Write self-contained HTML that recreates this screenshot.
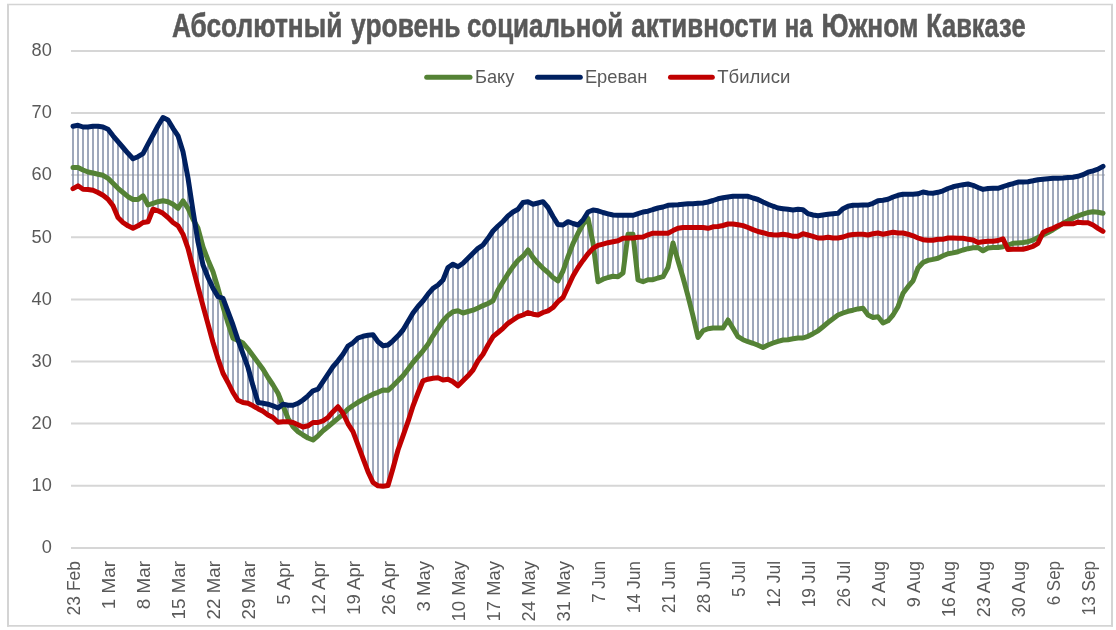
<!DOCTYPE html>
<html lang="ru"><head><meta charset="utf-8"><title>Абсолютный уровень социальной активности на Южном Кавказе</title>
<style>
html,body{margin:0;padding:0;background:#fff;}
body{width:1116px;height:630px;overflow:hidden;}
svg{display:block;font-family:"Liberation Sans", "DejaVu Sans", sans-serif;}
.ax{font-size:18.2px;fill:#595959;}
.ttl{font-size:33px;font-weight:bold;fill:#595959;stroke:#595959;stroke-width:0.55px;stroke-linejoin:round;}
</style></head><body>
<svg width="1116" height="630" viewBox="0 0 1116 630">
<rect x="0" y="0" width="1116" height="630" fill="#fff"/>
<g stroke="#d4d4d4" fill="none"><line x1="8" y1="3.9" x2="8" y2="626.8" stroke-width="2"/><line x1="1112" y1="3.9" x2="1112" y2="626.8" stroke-width="2"/><line x1="7" y1="4.5" x2="1113" y2="4.5" stroke-width="1.3"/><line x1="7" y1="625.9" x2="1113" y2="625.9" stroke-width="1.9"/></g>

<g stroke="#d6d6d6" stroke-width="2" fill="none">
<line x1="71" y1="547.9" x2="1105" y2="547.9"/>
<line x1="71" y1="485.8" x2="1105" y2="485.8"/>
<line x1="71" y1="423.6" x2="1105" y2="423.6"/>
<line x1="71" y1="361.5" x2="1105" y2="361.5"/>
<line x1="71" y1="299.4" x2="1105" y2="299.4"/>
<line x1="71" y1="237.3" x2="1105" y2="237.3"/>
<line x1="71" y1="175.1" x2="1105" y2="175.1"/>
<line x1="71" y1="113.0" x2="1105" y2="113.0"/>
<line x1="71" y1="50.9" x2="1105" y2="50.9"/>
</g>
<g class="ax" text-anchor="end">
<text x="51.8" y="553.1">0</text>
<text x="51.8" y="491.0">10</text>
<text x="51.8" y="428.8">20</text>
<text x="51.8" y="366.7">30</text>
<text x="51.8" y="304.6">40</text>
<text x="51.8" y="242.5">50</text>
<text x="51.8" y="180.3">60</text>
<text x="51.8" y="118.2">70</text>
<text x="51.8" y="56.1">80</text>
</g>
<g stroke="#7f8ba4" stroke-width="1.5" fill="none">
<line x1="73.0" y1="126.3" x2="73.0" y2="188.7"/>
<line x1="78.0" y1="125.3" x2="78.0" y2="185.8"/>
<line x1="83.0" y1="127.0" x2="83.0" y2="189.2"/>
<line x1="88.0" y1="127.0" x2="88.0" y2="189.5"/>
<line x1="93.0" y1="126.2" x2="93.0" y2="190.3"/>
<line x1="98.0" y1="126.2" x2="98.0" y2="192.5"/>
<line x1="103.0" y1="127.0" x2="103.0" y2="195.3"/>
<line x1="108.0" y1="129.2" x2="108.0" y2="199.2"/>
<line x1="113.0" y1="135.8" x2="113.0" y2="205.8"/>
<line x1="118.0" y1="141.7" x2="118.0" y2="217.5"/>
<line x1="123.0" y1="147.5" x2="123.0" y2="222.5"/>
<line x1="128.0" y1="153.3" x2="128.0" y2="225.8"/>
<line x1="133.0" y1="158.7" x2="133.0" y2="228.3"/>
<line x1="138.0" y1="156.7" x2="138.0" y2="225.8"/>
<line x1="143.0" y1="153.7" x2="143.0" y2="222.5"/>
<line x1="148.0" y1="144.2" x2="148.0" y2="221.7"/>
<line x1="153.0" y1="135.0" x2="153.0" y2="209.2"/>
<line x1="158.0" y1="125.8" x2="158.0" y2="210.8"/>
<line x1="163.0" y1="117.5" x2="163.0" y2="213.3"/>
<line x1="168.0" y1="120.0" x2="168.0" y2="217.5"/>
<line x1="173.0" y1="128.3" x2="173.0" y2="222.5"/>
<line x1="178.0" y1="135.8" x2="178.0" y2="225.8"/>
<line x1="183.0" y1="151.7" x2="183.0" y2="234.2"/>
<line x1="188.0" y1="178.0" x2="188.0" y2="248.3"/>
<line x1="193.0" y1="210.8" x2="193.0" y2="268.0"/>
<line x1="198.0" y1="228.3" x2="198.0" y2="287.0"/>
<line x1="203.0" y1="247.0" x2="203.0" y2="305.8"/>
<line x1="208.0" y1="260.0" x2="208.0" y2="324.2"/>
<line x1="213.0" y1="271.7" x2="213.0" y2="342.5"/>
<line x1="218.0" y1="288.3" x2="218.0" y2="358.7"/>
<line x1="223.0" y1="298.3" x2="223.0" y2="373.3"/>
<line x1="228.0" y1="311.7" x2="228.0" y2="382.5"/>
<line x1="233.0" y1="325.0" x2="233.0" y2="392.5"/>
<line x1="238.0" y1="340.0" x2="238.0" y2="400.3"/>
<line x1="243.0" y1="343.0" x2="243.0" y2="402.5"/>
<line x1="248.0" y1="349.0" x2="248.0" y2="403.3"/>
<line x1="253.0" y1="355.8" x2="253.0" y2="405.8"/>
<line x1="258.0" y1="362.5" x2="258.0" y2="408.7"/>
<line x1="263.0" y1="369.2" x2="263.0" y2="411.3"/>
<line x1="268.0" y1="377.5" x2="268.0" y2="415.0"/>
<line x1="273.0" y1="385.0" x2="273.0" y2="417.5"/>
<line x1="278.0" y1="393.3" x2="278.0" y2="422.2"/>
<line x1="283.0" y1="404.2" x2="283.0" y2="421.7"/>
<line x1="288.0" y1="405.3" x2="288.0" y2="421.7"/>
<line x1="293.0" y1="405.3" x2="293.0" y2="426.7"/>
<line x1="298.0" y1="403.3" x2="298.0" y2="431.7"/>
<line x1="303.0" y1="400.0" x2="303.0" y2="435.0"/>
<line x1="308.0" y1="395.8" x2="308.0" y2="438.0"/>
<line x1="313.0" y1="390.8" x2="313.0" y2="440.0"/>
<line x1="318.0" y1="389.2" x2="318.0" y2="435.8"/>
<line x1="323.0" y1="381.7" x2="323.0" y2="430.8"/>
<line x1="328.0" y1="374.2" x2="328.0" y2="426.7"/>
<line x1="333.0" y1="366.7" x2="333.0" y2="422.5"/>
<line x1="338.0" y1="360.8" x2="338.0" y2="418.3"/>
<line x1="343.0" y1="354.2" x2="343.0" y2="414.2"/>
<line x1="348.0" y1="346.0" x2="348.0" y2="423.8"/>
<line x1="353.0" y1="342.8" x2="353.0" y2="431.6"/>
<line x1="358.0" y1="338.0" x2="358.0" y2="445.0"/>
<line x1="363.0" y1="336.3" x2="363.0" y2="458.3"/>
<line x1="368.0" y1="335.3" x2="368.0" y2="471.7"/>
<line x1="373.0" y1="334.7" x2="373.0" y2="482.5"/>
<line x1="378.0" y1="341.7" x2="378.0" y2="485.8"/>
<line x1="383.0" y1="345.8" x2="383.0" y2="486.3"/>
<line x1="388.0" y1="345.0" x2="388.0" y2="485.5"/>
<line x1="393.0" y1="340.8" x2="393.0" y2="468.3"/>
<line x1="398.0" y1="335.8" x2="398.0" y2="450.0"/>
<line x1="403.0" y1="330.0" x2="403.0" y2="435.8"/>
<line x1="408.0" y1="321.5" x2="408.0" y2="421.7"/>
<line x1="413.0" y1="313.0" x2="413.0" y2="406.0"/>
<line x1="418.0" y1="306.5" x2="418.0" y2="393.0"/>
<line x1="423.0" y1="301.0" x2="423.0" y2="380.8"/>
<line x1="428.0" y1="294.2" x2="428.0" y2="379.2"/>
<line x1="433.0" y1="288.3" x2="433.0" y2="378.3"/>
<line x1="438.0" y1="285.0" x2="438.0" y2="377.8"/>
<line x1="443.0" y1="280.0" x2="443.0" y2="380.0"/>
<line x1="448.0" y1="267.5" x2="448.0" y2="379.2"/>
<line x1="453.0" y1="264.2" x2="453.0" y2="381.7"/>
<line x1="458.0" y1="266.7" x2="458.0" y2="385.8"/>
<line x1="463.0" y1="263.3" x2="463.0" y2="380.8"/>
<line x1="468.0" y1="258.3" x2="468.0" y2="375.8"/>
<line x1="473.0" y1="253.3" x2="473.0" y2="370.0"/>
<line x1="478.0" y1="248.3" x2="478.0" y2="360.8"/>
<line x1="483.0" y1="245.0" x2="483.0" y2="354.2"/>
<line x1="488.0" y1="238.3" x2="488.0" y2="345.0"/>
<line x1="493.0" y1="231.0" x2="493.0" y2="336.7"/>
<line x1="498.0" y1="226.0" x2="498.0" y2="332.5"/>
<line x1="503.0" y1="221.5" x2="503.0" y2="328.3"/>
<line x1="508.0" y1="216.0" x2="508.0" y2="323.3"/>
<line x1="513.0" y1="212.0" x2="513.0" y2="320.0"/>
<line x1="518.0" y1="209.2" x2="518.0" y2="316.7"/>
<line x1="523.0" y1="202.5" x2="523.0" y2="315.0"/>
<line x1="528.0" y1="201.7" x2="528.0" y2="312.5"/>
<line x1="533.0" y1="204.2" x2="533.0" y2="314.2"/>
<line x1="538.0" y1="203.0" x2="538.0" y2="315.0"/>
<line x1="543.0" y1="201.7" x2="543.0" y2="312.5"/>
<line x1="548.0" y1="207.5" x2="548.0" y2="310.8"/>
<line x1="553.0" y1="216.5" x2="553.0" y2="307.5"/>
<line x1="558.0" y1="224.6" x2="558.0" y2="301.7"/>
<line x1="563.0" y1="225.0" x2="563.0" y2="297.5"/>
<line x1="568.0" y1="221.7" x2="568.0" y2="286.7"/>
<line x1="573.0" y1="223.5" x2="573.0" y2="276.0"/>
<line x1="578.0" y1="225.0" x2="578.0" y2="267.5"/>
<line x1="583.0" y1="220.0" x2="583.0" y2="260.4"/>
<line x1="588.0" y1="212.0" x2="588.0" y2="253.7"/>
<line x1="593.0" y1="210.0" x2="593.0" y2="248.4"/>
<line x1="598.0" y1="210.8" x2="598.0" y2="281.7"/>
<line x1="603.0" y1="212.5" x2="603.0" y2="279.2"/>
<line x1="608.0" y1="213.8" x2="608.0" y2="277.5"/>
<line x1="613.0" y1="215.0" x2="613.0" y2="276.3"/>
<line x1="618.0" y1="215.3" x2="618.0" y2="276.7"/>
<line x1="623.0" y1="215.3" x2="623.0" y2="273.0"/>
<line x1="628.0" y1="215.3" x2="628.0" y2="238.0"/>
<line x1="633.0" y1="215.3" x2="633.0" y2="238.0"/>
<line x1="638.0" y1="213.7" x2="638.0" y2="280.0"/>
<line x1="643.0" y1="212.0" x2="643.0" y2="281.7"/>
<line x1="648.0" y1="211.2" x2="648.0" y2="279.7"/>
<line x1="653.0" y1="209.5" x2="653.0" y2="279.7"/>
<line x1="658.0" y1="208.0" x2="658.0" y2="278.0"/>
<line x1="663.0" y1="207.0" x2="663.0" y2="276.7"/>
<line x1="668.0" y1="205.3" x2="668.0" y2="267.5"/>
<line x1="673.0" y1="205.0" x2="673.0" y2="243.0"/>
<line x1="678.0" y1="204.7" x2="678.0" y2="260.8"/>
<line x1="683.0" y1="204.2" x2="683.0" y2="277.5"/>
<line x1="688.0" y1="203.8" x2="688.0" y2="296.0"/>
<line x1="693.0" y1="203.8" x2="693.0" y2="316.0"/>
<line x1="698.0" y1="203.3" x2="698.0" y2="337.5"/>
<line x1="703.0" y1="203.0" x2="703.0" y2="330.8"/>
<line x1="708.0" y1="202.0" x2="708.0" y2="328.7"/>
<line x1="713.0" y1="200.5" x2="713.0" y2="328.0"/>
<line x1="718.0" y1="198.8" x2="718.0" y2="328.0"/>
<line x1="723.0" y1="197.8" x2="723.0" y2="328.0"/>
<line x1="728.0" y1="197.0" x2="728.0" y2="320.0"/>
<line x1="733.0" y1="196.3" x2="733.0" y2="328.3"/>
<line x1="738.0" y1="196.3" x2="738.0" y2="336.7"/>
<line x1="743.0" y1="196.3" x2="743.0" y2="339.7"/>
<line x1="748.0" y1="196.3" x2="748.0" y2="341.7"/>
<line x1="753.0" y1="198.0" x2="753.0" y2="343.3"/>
<line x1="758.0" y1="199.5" x2="758.0" y2="345.3"/>
<line x1="763.0" y1="202.0" x2="763.0" y2="347.5"/>
<line x1="768.0" y1="204.2" x2="768.0" y2="345.0"/>
<line x1="773.0" y1="206.2" x2="773.0" y2="343.0"/>
<line x1="778.0" y1="208.0" x2="778.0" y2="341.3"/>
<line x1="783.0" y1="208.7" x2="783.0" y2="340.0"/>
<line x1="788.0" y1="209.3" x2="788.0" y2="339.7"/>
<line x1="793.0" y1="210.0" x2="793.0" y2="338.8"/>
<line x1="798.0" y1="209.3" x2="798.0" y2="338.0"/>
<line x1="803.0" y1="209.7" x2="803.0" y2="338.0"/>
<line x1="808.0" y1="213.7" x2="808.0" y2="336.3"/>
<line x1="813.0" y1="215.0" x2="813.0" y2="333.7"/>
<line x1="818.0" y1="215.8" x2="818.0" y2="330.8"/>
<line x1="823.0" y1="215.0" x2="823.0" y2="326.7"/>
<line x1="828.0" y1="214.2" x2="828.0" y2="322.5"/>
<line x1="833.0" y1="213.7" x2="833.0" y2="318.7"/>
<line x1="838.0" y1="213.3" x2="838.0" y2="315.0"/>
<line x1="843.0" y1="208.7" x2="843.0" y2="313.0"/>
<line x1="848.0" y1="206.3" x2="848.0" y2="311.3"/>
<line x1="853.0" y1="205.3" x2="853.0" y2="310.2"/>
<line x1="858.0" y1="205.2" x2="858.0" y2="308.9"/>
<line x1="863.0" y1="205.0" x2="863.0" y2="308.3"/>
<line x1="868.0" y1="205.0" x2="868.0" y2="315.0"/>
<line x1="873.0" y1="203.3" x2="873.0" y2="317.5"/>
<line x1="878.0" y1="200.8" x2="878.0" y2="316.7"/>
<line x1="883.0" y1="200.3" x2="883.0" y2="323.0"/>
<line x1="888.0" y1="199.2" x2="888.0" y2="320.8"/>
<line x1="893.0" y1="197.0" x2="893.0" y2="315.0"/>
<line x1="898.0" y1="195.3" x2="898.0" y2="306.7"/>
<line x1="903.0" y1="194.2" x2="903.0" y2="293.3"/>
<line x1="908.0" y1="194.2" x2="908.0" y2="286.7"/>
<line x1="913.0" y1="194.2" x2="913.0" y2="280.8"/>
<line x1="918.0" y1="193.8" x2="918.0" y2="268.0"/>
<line x1="923.0" y1="192.0" x2="923.0" y2="262.5"/>
<line x1="928.0" y1="193.0" x2="928.0" y2="260.4"/>
<line x1="933.0" y1="193.2" x2="933.0" y2="259.4"/>
<line x1="938.0" y1="192.3" x2="938.0" y2="258.2"/>
<line x1="943.0" y1="190.8" x2="943.0" y2="255.8"/>
<line x1="948.0" y1="188.5" x2="948.0" y2="253.7"/>
<line x1="953.0" y1="186.8" x2="953.0" y2="252.9"/>
<line x1="958.0" y1="185.6" x2="958.0" y2="251.7"/>
<line x1="963.0" y1="184.7" x2="963.0" y2="250.0"/>
<line x1="968.0" y1="184.0" x2="968.0" y2="248.7"/>
<line x1="973.0" y1="185.3" x2="973.0" y2="247.8"/>
<line x1="978.0" y1="187.5" x2="978.0" y2="247.5"/>
<line x1="983.0" y1="189.4" x2="983.0" y2="250.8"/>
<line x1="988.0" y1="188.5" x2="988.0" y2="248.0"/>
<line x1="993.0" y1="188.3" x2="993.0" y2="247.5"/>
<line x1="998.0" y1="188.3" x2="998.0" y2="247.5"/>
<line x1="1003.0" y1="186.7" x2="1003.0" y2="246.7"/>
<line x1="1008.0" y1="185.0" x2="1008.0" y2="249.6"/>
<line x1="1013.0" y1="183.7" x2="1013.0" y2="249.2"/>
<line x1="1018.0" y1="182.1" x2="1018.0" y2="249.2"/>
<line x1="1023.0" y1="182.1" x2="1023.0" y2="249.2"/>
<line x1="1028.0" y1="181.7" x2="1028.0" y2="248.0"/>
<line x1="1033.0" y1="180.8" x2="1033.0" y2="246.3"/>
<line x1="1038.0" y1="179.7" x2="1038.0" y2="243.3"/>
<line x1="1043.0" y1="179.2" x2="1043.0" y2="235.0"/>
<line x1="1048.0" y1="178.8" x2="1048.0" y2="232.5"/>
<line x1="1053.0" y1="178.3" x2="1053.0" y2="229.7"/>
<line x1="1058.0" y1="178.3" x2="1058.0" y2="226.7"/>
<line x1="1063.0" y1="178.0" x2="1063.0" y2="223.8"/>
<line x1="1068.0" y1="177.5" x2="1068.0" y2="223.8"/>
<line x1="1073.0" y1="177.2" x2="1073.0" y2="223.8"/>
<line x1="1078.0" y1="176.3" x2="1078.0" y2="222.2"/>
<line x1="1083.0" y1="174.7" x2="1083.0" y2="222.8"/>
<line x1="1088.0" y1="172.2" x2="1088.0" y2="222.8"/>
<line x1="1093.0" y1="170.8" x2="1093.0" y2="225.0"/>
<line x1="1098.0" y1="169.2" x2="1098.0" y2="228.3"/>
<line x1="1103.0" y1="166.3" x2="1103.0" y2="231.3"/>
</g>
<polyline points="73.0,167.5 78.0,167.5 83.0,170.0 88.0,172.0 93.0,173.0 98.0,174.2 103.0,175.3 108.0,178.3 113.0,183.3 118.0,188.3 123.0,192.5 128.0,196.7 133.0,199.5 138.0,199.5 143.0,195.8 148.0,205.0 153.0,203.3 158.0,201.7 163.0,200.8 168.0,201.7 173.0,204.2 178.0,208.3 183.0,200.8 188.0,208.3 193.0,219.2 198.0,228.3 203.0,247.0 208.0,260.0 213.0,271.7 218.0,288.3 223.0,306.7 228.0,323.3 233.0,338.3 238.0,340.5 243.0,343.0 248.0,349.0 253.0,355.8 258.0,362.5 263.0,369.2 268.0,377.5 273.0,385.0 278.0,393.3 283.0,405.8 288.0,418.3 293.0,426.7 298.0,431.7 303.0,435.0 308.0,438.0 313.0,440.0 318.0,435.8 323.0,430.8 328.0,426.7 333.0,422.5 338.0,418.3 343.0,414.2 348.0,409.0 353.0,405.5 358.0,402.3 363.0,399.5 368.0,396.7 373.0,394.2 378.0,392.3 383.0,390.0 388.0,390.3 393.0,385.8 398.0,380.8 403.0,375.8 408.0,369.2 413.0,362.5 418.0,356.7 423.0,350.8 428.0,344.2 433.0,335.8 438.0,328.3 443.0,321.0 448.0,315.4 453.0,311.7 458.0,310.8 463.0,313.0 468.0,311.5 473.0,310.2 478.0,308.0 483.0,305.6 488.0,303.5 493.0,300.8 498.0,290.0 503.0,281.7 508.0,273.8 513.0,266.6 518.0,260.4 523.0,256.2 528.0,250.0 533.0,257.5 538.0,263.3 543.0,268.3 548.0,272.5 553.0,277.5 558.0,280.8 563.0,271.0 568.0,256.7 573.0,243.7 578.0,233.3 583.0,224.2 588.0,218.3 593.0,243.0 598.0,281.7 603.0,279.2 608.0,277.5 613.0,276.3 618.0,276.7 623.0,273.0 628.0,234.2 633.0,234.2 638.0,280.0 643.0,281.7 648.0,279.7 653.0,279.7 658.0,278.0 663.0,276.7 668.0,267.5 673.0,243.0 678.0,260.8 683.0,277.5 688.0,296.0 693.0,316.0 698.0,337.5 703.0,330.8 708.0,328.7 713.0,328.0 718.0,328.0 723.0,328.0 728.0,320.0 733.0,328.3 738.0,336.7 743.0,339.7 748.0,341.7 753.0,343.3 758.0,345.3 763.0,347.5 768.0,345.0 773.0,343.0 778.0,341.3 783.0,340.0 788.0,339.7 793.0,338.8 798.0,338.0 803.0,338.0 808.0,336.3 813.0,333.7 818.0,330.8 823.0,326.7 828.0,322.5 833.0,318.7 838.0,315.0 843.0,313.0 848.0,311.3 853.0,310.2 858.0,308.9 863.0,308.3 868.0,315.0 873.0,317.5 878.0,316.7 883.0,323.0 888.0,320.8 893.0,315.0 898.0,306.7 903.0,293.3 908.0,286.7 913.0,280.8 918.0,268.0 923.0,262.5 928.0,260.4 933.0,259.4 938.0,258.2 943.0,255.8 948.0,253.7 953.0,252.9 958.0,251.7 963.0,250.0 968.0,248.7 973.0,247.8 978.0,247.5 983.0,250.8 988.0,248.0 993.0,247.5 998.0,247.5 1003.0,246.7 1008.0,245.0 1013.0,243.3 1018.0,242.9 1023.0,242.5 1028.0,241.7 1033.0,240.0 1038.0,237.5 1043.0,235.0 1048.0,232.5 1053.0,229.7 1058.0,226.7 1063.0,223.3 1068.0,220.8 1073.0,218.0 1078.0,215.8 1083.0,214.2 1088.0,212.5 1093.0,211.7 1098.0,212.2 1103.0,213.3" fill="none" stroke="#548235" stroke-width="5" stroke-linejoin="round" stroke-linecap="round"/>
<polyline points="73.0,126.3 78.0,125.3 83.0,127.0 88.0,127.0 93.0,126.2 98.0,126.2 103.0,127.0 108.0,129.2 113.0,135.8 118.0,141.7 123.0,147.5 128.0,153.3 133.0,158.7 138.0,156.7 143.0,153.7 148.0,144.2 153.0,135.0 158.0,125.8 163.0,117.5 168.0,120.0 173.0,128.3 178.0,135.8 183.0,151.7 188.0,178.0 193.0,210.8 198.0,242.0 203.0,265.0 208.0,277.5 213.0,288.3 218.0,296.7 223.0,298.3 228.0,311.7 233.0,325.0 238.0,340.0 243.0,353.8 248.0,367.5 253.0,385.8 258.0,402.5 263.0,403.3 268.0,404.2 273.0,405.8 278.0,408.0 283.0,404.2 288.0,405.3 293.0,405.3 298.0,403.3 303.0,400.0 308.0,395.8 313.0,390.8 318.0,389.2 323.0,381.7 328.0,374.2 333.0,366.7 338.0,360.8 343.0,354.2 348.0,346.0 353.0,342.8 358.0,338.0 363.0,336.3 368.0,335.3 373.0,334.7 378.0,341.7 383.0,345.8 388.0,345.0 393.0,340.8 398.0,335.8 403.0,330.0 408.0,321.5 413.0,313.0 418.0,306.5 423.0,301.0 428.0,294.2 433.0,288.3 438.0,285.0 443.0,280.0 448.0,267.5 453.0,264.2 458.0,266.7 463.0,263.3 468.0,258.3 473.0,253.3 478.0,248.3 483.0,245.0 488.0,238.3 493.0,231.0 498.0,226.0 503.0,221.5 508.0,216.0 513.0,212.0 518.0,209.2 523.0,202.5 528.0,201.7 533.0,204.2 538.0,203.0 543.0,201.7 548.0,207.5 553.0,216.5 558.0,224.6 563.0,225.0 568.0,221.7 573.0,223.5 578.0,225.0 583.0,220.0 588.0,212.0 593.0,210.0 598.0,210.8 603.0,212.5 608.0,213.8 613.0,215.0 618.0,215.3 623.0,215.3 628.0,215.3 633.0,215.3 638.0,213.7 643.0,212.0 648.0,211.2 653.0,209.5 658.0,208.0 663.0,207.0 668.0,205.3 673.0,205.0 678.0,204.7 683.0,204.2 688.0,203.8 693.0,203.8 698.0,203.3 703.0,203.0 708.0,202.0 713.0,200.5 718.0,198.8 723.0,197.8 728.0,197.0 733.0,196.3 738.0,196.3 743.0,196.3 748.0,196.3 753.0,198.0 758.0,199.5 763.0,202.0 768.0,204.2 773.0,206.2 778.0,208.0 783.0,208.7 788.0,209.3 793.0,210.0 798.0,209.3 803.0,209.7 808.0,213.7 813.0,215.0 818.0,215.8 823.0,215.0 828.0,214.2 833.0,213.7 838.0,213.3 843.0,208.7 848.0,206.3 853.0,205.3 858.0,205.2 863.0,205.0 868.0,205.0 873.0,203.3 878.0,200.8 883.0,200.3 888.0,199.2 893.0,197.0 898.0,195.3 903.0,194.2 908.0,194.2 913.0,194.2 918.0,193.8 923.0,192.0 928.0,193.0 933.0,193.2 938.0,192.3 943.0,190.8 948.0,188.5 953.0,186.8 958.0,185.6 963.0,184.7 968.0,184.0 973.0,185.3 978.0,187.5 983.0,189.4 988.0,188.5 993.0,188.3 998.0,188.3 1003.0,186.7 1008.0,185.0 1013.0,183.7 1018.0,182.1 1023.0,182.1 1028.0,181.7 1033.0,180.8 1038.0,179.7 1043.0,179.2 1048.0,178.8 1053.0,178.3 1058.0,178.3 1063.0,178.0 1068.0,177.5 1073.0,177.2 1078.0,176.3 1083.0,174.7 1088.0,172.2 1093.0,170.8 1098.0,169.2 1103.0,166.3" fill="none" stroke="#002060" stroke-width="5" stroke-linejoin="round" stroke-linecap="round"/>
<polyline points="73.0,188.7 78.0,185.8 83.0,189.2 88.0,189.5 93.0,190.3 98.0,192.5 103.0,195.3 108.0,199.2 113.0,205.8 118.0,217.5 123.0,222.5 128.0,225.8 133.0,228.3 138.0,225.8 143.0,222.5 148.0,221.7 153.0,209.2 158.0,210.8 163.0,213.3 168.0,217.5 173.0,222.5 178.0,225.8 183.0,234.2 188.0,248.3 193.0,268.0 198.0,287.0 203.0,305.8 208.0,324.2 213.0,342.5 218.0,358.7 223.0,373.3 228.0,382.5 233.0,392.5 238.0,400.3 243.0,402.5 248.0,403.3 253.0,405.8 258.0,408.7 263.0,411.3 268.0,415.0 273.0,417.5 278.0,422.2 283.0,421.7 288.0,421.7 293.0,422.5 298.0,424.7 303.0,427.0 308.0,425.8 313.0,422.5 318.0,422.5 323.0,420.8 328.0,417.5 333.0,411.7 338.0,406.7 343.0,413.3 348.0,423.8 353.0,431.6 358.0,445.0 363.0,458.3 368.0,471.7 373.0,482.5 378.0,485.8 383.0,486.3 388.0,485.5 393.0,468.3 398.0,450.0 403.0,435.8 408.0,421.7 413.0,406.0 418.0,393.0 423.0,380.8 428.0,379.2 433.0,378.3 438.0,377.8 443.0,380.0 448.0,379.2 453.0,381.7 458.0,385.8 463.0,380.8 468.0,375.8 473.0,370.0 478.0,360.8 483.0,354.2 488.0,345.0 493.0,336.7 498.0,332.5 503.0,328.3 508.0,323.3 513.0,320.0 518.0,316.7 523.0,315.0 528.0,312.5 533.0,314.2 538.0,315.0 543.0,312.5 548.0,310.8 553.0,307.5 558.0,301.7 563.0,297.5 568.0,286.7 573.0,276.0 578.0,267.5 583.0,260.4 588.0,253.7 593.0,248.4 598.0,245.4 603.0,244.1 608.0,242.7 613.0,241.8 618.0,240.8 623.0,238.2 628.0,238.0 633.0,238.0 638.0,237.3 643.0,237.0 648.0,234.8 653.0,233.2 658.0,233.2 663.0,233.2 668.0,233.2 673.0,230.6 678.0,228.3 683.0,227.5 688.0,227.5 693.0,227.5 698.0,227.5 703.0,227.5 708.0,228.3 713.0,226.8 718.0,226.5 723.0,225.5 728.0,224.0 733.0,224.0 738.0,224.8 743.0,225.6 748.0,227.5 753.0,229.6 758.0,231.5 763.0,232.7 768.0,234.2 773.0,234.7 778.0,235.0 783.0,234.2 788.0,235.0 793.0,236.3 798.0,236.3 803.0,233.8 808.0,235.0 813.0,236.3 818.0,238.0 823.0,238.0 828.0,237.2 833.0,238.0 838.0,238.0 843.0,237.0 848.0,235.3 853.0,234.5 858.0,234.2 863.0,234.2 868.0,235.0 873.0,233.8 878.0,233.0 883.0,234.2 888.0,233.3 893.0,232.2 898.0,233.0 903.0,233.0 908.0,234.2 913.0,235.8 918.0,238.0 923.0,239.7 928.0,240.3 933.0,240.3 938.0,239.2 943.0,239.2 948.0,238.0 953.0,238.0 958.0,238.3 963.0,238.3 968.0,239.2 973.0,240.0 978.0,242.5 983.0,241.7 988.0,241.2 993.0,241.2 998.0,240.5 1003.0,238.8 1008.0,249.6 1013.0,249.2 1018.0,249.2 1023.0,249.2 1028.0,248.0 1033.0,246.3 1038.0,243.3 1043.0,232.5 1048.0,230.0 1053.0,228.3 1058.0,225.8 1063.0,223.8 1068.0,223.8 1073.0,223.8 1078.0,222.2 1083.0,222.8 1088.0,222.8 1093.0,225.0 1098.0,228.3 1103.0,231.3" fill="none" stroke="#c00000" stroke-width="5" stroke-linejoin="round" stroke-linecap="round"/>
<g class="ttl">
<text x="171.90" y="36.6" textLength="170.40" lengthAdjust="spacingAndGlyphs">Абсолютный</text>
<text x="351.10" y="36.6" textLength="109.40" lengthAdjust="spacingAndGlyphs">уровень</text>
<text x="466.90" y="36.6" textLength="156.30" lengthAdjust="spacingAndGlyphs">социальной</text>
<text x="631.30" y="36.6" textLength="146.10" lengthAdjust="spacingAndGlyphs">активности</text>
<text x="784.70" y="36.6" textLength="27.80" lengthAdjust="spacingAndGlyphs">на</text>
<text x="821.40" y="36.6" textLength="96.90" lengthAdjust="spacingAndGlyphs">Южном</text>
<text x="926.20" y="36.6" textLength="99.40" lengthAdjust="spacingAndGlyphs">Кавказе</text>
</g>
<line x1="426.7" y1="77.2" x2="470" y2="77.2" stroke="#548235" stroke-width="5" stroke-linecap="round"/><text class="ax" x="475.0" y="82.6" textLength="39.4" lengthAdjust="spacingAndGlyphs">Баку</text>
<line x1="537.5" y1="77.2" x2="580.3" y2="77.2" stroke="#002060" stroke-width="5" stroke-linecap="round"/><text class="ax" x="584.9" y="82.6" textLength="62.4" lengthAdjust="spacingAndGlyphs">Ереван</text>
<line x1="670.5" y1="77.2" x2="712.3" y2="77.2" stroke="#c00000" stroke-width="5" stroke-linecap="round"/><text class="ax" x="717.2" y="82.6" textLength="73.2" lengthAdjust="spacingAndGlyphs">Тбилиси</text>
<g class="ax" text-anchor="end">
<text transform="translate(80.0,561.0) rotate(-90)" x="0" y="0" textLength="54.4" lengthAdjust="spacingAndGlyphs">23 Feb</text>
<text transform="translate(115.0,561.0) rotate(-90)" x="0" y="0" textLength="48.3" lengthAdjust="spacingAndGlyphs">1 Mar</text>
<text transform="translate(150.0,561.0) rotate(-90)" x="0" y="0" textLength="48.3" lengthAdjust="spacingAndGlyphs">8 Mar</text>
<text transform="translate(185.0,561.0) rotate(-90)" x="0" y="0" textLength="58.5" lengthAdjust="spacingAndGlyphs">15 Mar</text>
<text transform="translate(220.0,561.0) rotate(-90)" x="0" y="0" textLength="58.5" lengthAdjust="spacingAndGlyphs">22 Mar</text>
<text transform="translate(255.0,561.0) rotate(-90)" x="0" y="0" textLength="58.5" lengthAdjust="spacingAndGlyphs">29 Mar</text>
<text transform="translate(290.0,561.0) rotate(-90)" x="0" y="0" textLength="43.7" lengthAdjust="spacingAndGlyphs">5 Apr</text>
<text transform="translate(325.0,561.0) rotate(-90)" x="0" y="0" textLength="53.9" lengthAdjust="spacingAndGlyphs">12 Apr</text>
<text transform="translate(360.0,561.0) rotate(-90)" x="0" y="0" textLength="53.9" lengthAdjust="spacingAndGlyphs">19 Apr</text>
<text transform="translate(395.0,561.0) rotate(-90)" x="0" y="0" textLength="53.9" lengthAdjust="spacingAndGlyphs">26 Apr</text>
<text transform="translate(430.0,561.0) rotate(-90)" x="0" y="0" textLength="50.4" lengthAdjust="spacingAndGlyphs">3 May</text>
<text transform="translate(465.0,561.0) rotate(-90)" x="0" y="0" textLength="60.5" lengthAdjust="spacingAndGlyphs">10 May</text>
<text transform="translate(500.0,561.0) rotate(-90)" x="0" y="0" textLength="60.5" lengthAdjust="spacingAndGlyphs">17 May</text>
<text transform="translate(535.0,561.0) rotate(-90)" x="0" y="0" textLength="60.5" lengthAdjust="spacingAndGlyphs">24 May</text>
<text transform="translate(570.0,561.0) rotate(-90)" x="0" y="0" textLength="60.5" lengthAdjust="spacingAndGlyphs">31 May</text>
<text transform="translate(605.0,561.0) rotate(-90)" x="0" y="0" textLength="42.0" lengthAdjust="spacingAndGlyphs">7 Jun</text>
<text transform="translate(640.0,561.0) rotate(-90)" x="0" y="0" textLength="52.2" lengthAdjust="spacingAndGlyphs">14 Jun</text>
<text transform="translate(675.0,561.0) rotate(-90)" x="0" y="0" textLength="52.2" lengthAdjust="spacingAndGlyphs">21 Jun</text>
<text transform="translate(710.0,561.0) rotate(-90)" x="0" y="0" textLength="52.2" lengthAdjust="spacingAndGlyphs">28 Jun</text>
<text transform="translate(745.0,561.0) rotate(-90)" x="0" y="0" textLength="36.1" lengthAdjust="spacingAndGlyphs">5 Jul</text>
<text transform="translate(780.0,561.0) rotate(-90)" x="0" y="0" textLength="46.3" lengthAdjust="spacingAndGlyphs">12 Jul</text>
<text transform="translate(815.0,561.0) rotate(-90)" x="0" y="0" textLength="46.3" lengthAdjust="spacingAndGlyphs">19 Jul</text>
<text transform="translate(850.0,561.0) rotate(-90)" x="0" y="0" textLength="46.3" lengthAdjust="spacingAndGlyphs">26 Jul</text>
<text transform="translate(885.0,561.0) rotate(-90)" x="0" y="0" textLength="46.2" lengthAdjust="spacingAndGlyphs">2 Aug</text>
<text transform="translate(920.0,561.0) rotate(-90)" x="0" y="0" textLength="46.2" lengthAdjust="spacingAndGlyphs">9 Aug</text>
<text transform="translate(955.0,561.0) rotate(-90)" x="0" y="0" textLength="56.3" lengthAdjust="spacingAndGlyphs">16 Aug</text>
<text transform="translate(990.0,561.0) rotate(-90)" x="0" y="0" textLength="56.3" lengthAdjust="spacingAndGlyphs">23 Aug</text>
<text transform="translate(1025.0,561.0) rotate(-90)" x="0" y="0" textLength="56.3" lengthAdjust="spacingAndGlyphs">30 Aug</text>
<text transform="translate(1060.0,561.0) rotate(-90)" x="0" y="0" textLength="44.3" lengthAdjust="spacingAndGlyphs">6 Sep</text>
<text transform="translate(1095.0,561.0) rotate(-90)" x="0" y="0" textLength="54.4" lengthAdjust="spacingAndGlyphs">13 Sep</text>
</g>
</svg></body></html>
